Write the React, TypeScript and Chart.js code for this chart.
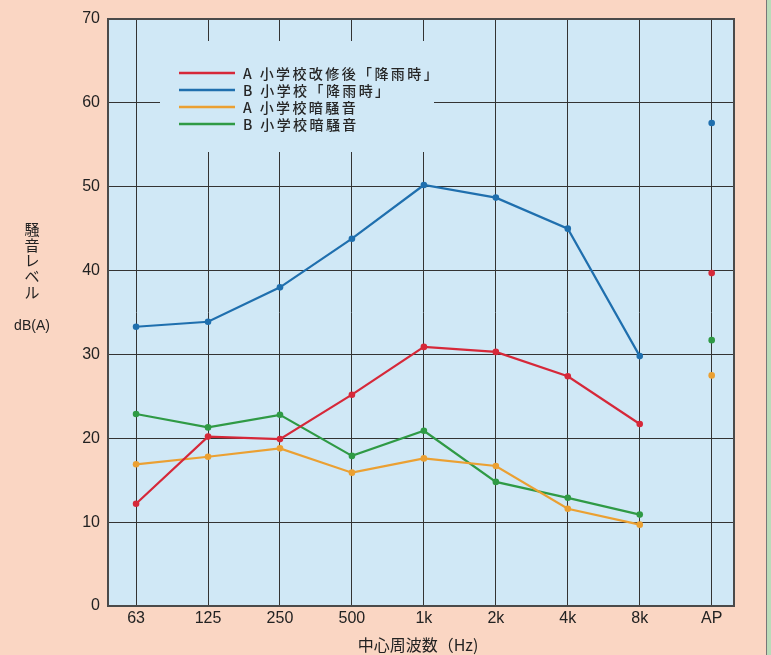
import { useEffect, useRef } from "react";
import { Chart, registerables } from "chart.js";

Chart.register(...registerables);

// 中心周波数 bands, AP = overall level
const bands = ["63", "125", "250", "500", "1k", "2k", "4k", "8k", "AP"];

const aRepairedRain = [12.2, 20.2, 19.9, 25.2, 30.9, 30.3, 27.4, 21.7, 39.7];
const bRain = [33.3, 33.9, 38.0, 43.8, 50.2, 48.7, 45.0, 29.8, 57.6];
const aBackground = [16.9, 17.8, 18.8, 15.9, 17.6, 16.7, 11.6, 9.7, 27.5];
const bBackground = [22.9, 21.3, 22.8, 17.9, 20.9, 14.8, 12.9, 10.9, 31.7];

const seriesNames = ["A 小学校改修後「降雨時」", "B 小学校「降雨時」", "A 小学校暗騒音", "B 小学校暗騒音"];
const seriesColors = ["#d62839", "#1f6fae", "#eba032", "#2f9a45"];
const seriesValues = [aRepairedRain, bRain, aBackground, bBackground];

const PAGE = "#fad6c3";
const PLOT = "#d0e8f6";
const CJK = '"Noto Sans CJK JP", "Noto Sans", sans-serif';
const SANS = '"Liberation Sans", Arial, sans-serif';

const plotDecor = {
  id: "plotDecor",
  beforeDraw(chart: Chart) {
    const { ctx, chartArea: a } = chart;
    ctx.save();
    ctx.fillStyle = PLOT;
    ctx.fillRect(a.left, a.top, a.right - a.left, a.bottom - a.top);
    ctx.restore();
  },
  beforeDatasetsDraw(chart: Chart) {
    // legend box hides the grid behind it
    const { ctx } = chart;
    ctx.save();
    ctx.fillStyle = PLOT;
    ctx.fillRect(160, 41, 274, 111);
    ctx.restore();
  },
  afterDraw(chart: Chart) {
    const { ctx, chartArea: a } = chart;
    ctx.save();
    ctx.strokeStyle = "#4a4a4a";
    ctx.lineWidth = 2;
    ctx.strokeRect(a.left, a.top, a.right - a.left, a.bottom - a.top);

    // legend
    ctx.font = `500 14px ${CJK}`;
    (ctx as any).letterSpacing = "2.4px";
    ctx.textBaseline = "middle";
    ctx.textAlign = "left";
    seriesNames.forEach((name, i) => {
      const y = 73 + i * 17;
      ctx.strokeStyle = seriesColors[i];
      ctx.lineWidth = 2.5;
      ctx.beginPath();
      ctx.moveTo(179, y);
      ctx.lineTo(235, y);
      ctx.stroke();
      ctx.fillStyle = "#262626";
      ctx.fillText(name, 243, y + 1);
    });
    (ctx as any).letterSpacing = "0px";

    // axis titles
    ctx.fillStyle = "#222";
    ctx.textAlign = "center";
    ctx.font = `15px ${CJK}`;
    ["騒", "音", "レ", "ベ", "ル"].forEach((ch, i) => ctx.fillText(ch, 32, 229 + i * 15.8));
    ctx.font = `14px ${SANS}`;
    ctx.fillText("dB(A)", 32, 326);
    ctx.font = `16px ${CJK}`;
    ctx.fillText("中心周波数（Hz)", 418, 645);
    ctx.restore();
  },
};

export default function App() {
  const canvasRef = useRef<HTMLCanvasElement>(null);

  useEffect(() => {
    document.body.style.margin = "0";
    document.body.style.background = "#b9dcb9";
    if (!canvasRef.current) return;

    const datasets: any[] = [];
    seriesValues.forEach((vals, i) => {
      datasets.push({
        label: seriesNames[i],
        data: vals.slice(0, 8).map((v, k) => ({ x: k, y: v })),
        borderColor: seriesColors[i],
        backgroundColor: seriesColors[i],
        borderWidth: 2.2,
        pointRadius: 3.3,
        pointBorderWidth: 0,
        tension: 0,
      });
      datasets.push({
        label: seriesNames[i] + " AP",
        data: [{ x: 8, y: vals[8] }],
        borderColor: seriesColors[i],
        backgroundColor: seriesColors[i],
        showLine: false,
        pointRadius: 3.3,
        pointBorderWidth: 0,
      });
    });

    const chart = new Chart(canvasRef.current, {
      type: "line",
      data: { datasets },
      plugins: [plotDecor],
      options: {
        animation: false,
        responsive: true,
        maintainAspectRatio: false,
        layout: { padding: { top: 19, right: 32, left: 0, bottom: 0 } },
        plugins: { legend: { display: false }, tooltip: { enabled: false } },
        scales: {
          x: {
            type: "linear",
            min: -0.39,
            max: 8.31,
            afterBuildTicks: (s: any) => { s.ticks = bands.map((_, i) => ({ value: i })); },
            afterFit: (s: any) => { s.height = 49; },
            ticks: { callback: (v: any) => bands[v] ?? "", color: "#222", font: { family: SANS, size: 16 }, padding: 3, maxRotation: 0 },
            grid: { color: "#333", lineWidth: 1, drawTicks: false },
            border: { display: false },
          },
          y: {
            min: 0,
            max: 70,
            afterFit: (s: any) => { s.width = 108; },
            ticks: { stepSize: 10, color: "#222", font: { family: SANS, size: 16 }, padding: 8 },
            grid: { color: "#333", lineWidth: 1, drawTicks: false },
            border: { display: false },
          },
        },
      },
    });
    return () => chart.destroy();
  }, []);

  return (
    <div style={{ width: 766, height: 655, background: PAGE, borderRight: "1px solid #777", position: "relative" }}>
      <canvas ref={canvasRef} />
    </div>
  );
}
